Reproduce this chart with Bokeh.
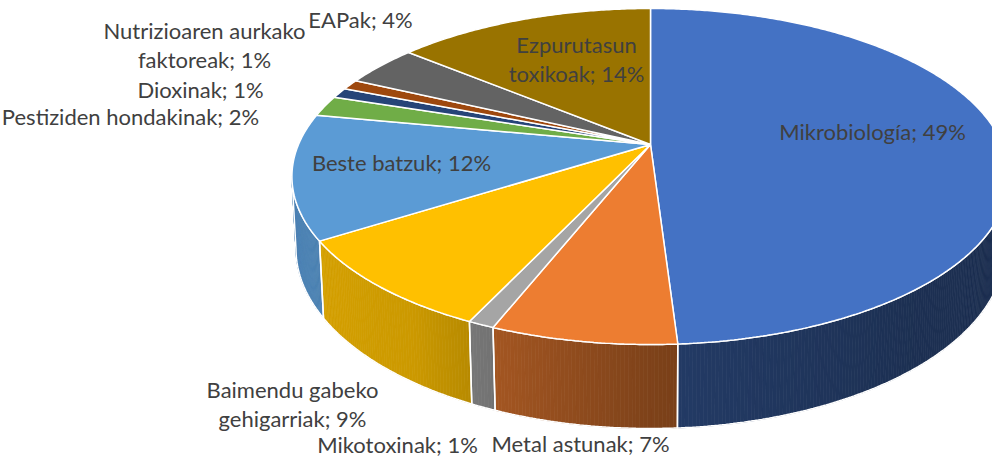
import numpy as np
from bokeh.plotting import figure
from bokeh.models import Range1d
from bokeh.embed import file_html
from bokeh.resources import INLINE
from bokeh.core.properties import value

# ---------------- data ----------------
categories = ["Mikrobiología", "Metal astunak", "Mikotoxinak",
              "Baimendu gabeko gehigarriak", "Beste batzuk",
              "Pestiziden hondakinak", "Dioxinak",
              "Nutrizioaren aurkako faktoreak", "EAPak",
              "Ezpurutasun toxikoak"]
percentages = [49, 7, 1, 9, 12, 2, 1, 1, 4, 14]
colors = ["#4472C4", "#ED7D31", "#A5A5A5", "#FFC000", "#5B9BD5",
          "#70AD47", "#264478", "#9E480E", "#636363", "#997300"]

# ---------------- layout (pixel space of the page) ----------------
W_PAGE, H_PAGE = 1008, 475
X0, Y0 = 658.0, 152.0          # pie centre on top face
A, B = 352.0, 161.9            # horizontal / vertical radii scale
K = 0.1905                     # perspective factor
DEPTH, M = 71.1, 0.011         # thickness and vertical perspective

# label layout: (centre x, first-line centre y, words on first line or 0)
label_layout = [(880, 139, 0), (588, 451, 0), (405, 452, 0),
                (300, 397, 2), (409, 170, 0), (138, 124, 0),
                (208, 97, 0), (212, 38, 2), (368, 27, 0), (584, 52, 1)]
LINE_GAP = 29
FONT = "Lato"
FONT_SIZE = "22px"
TEXT_COLOR = "#404040"


def proj(theta_deg, r=1.0, h=0.0):
    t = np.radians(theta_deg)
    w = 1 + K * r * np.cos(t) + M * h
    x = X0 + A * r * np.sin(t) / w
    ypix = Y0 - B * r * np.cos(t) / w + DEPTH * h / w
    return x, H_PAGE - ypix


def shade(hex_color, f):
    h = hex_color.lstrip("#")
    r, g, b = (int(h[i:i + 2], 16) for i in (0, 2, 4))
    return "#%02x%02x%02x" % (int(r * f), int(g * f), int(b * f))


def shade_factor(theta):
    return float(np.interp(theta, [90, 140, 178, 200, 215, 240, 270],
                           [0.40, 0.42, 0.52, 0.68, 0.80, 0.84, 0.86]))


p = figure(width=992, height=459, output_backend="svg", toolbar_location=None,
           x_range=Range1d(8, 1000), y_range=Range1d(8, 467),
           min_border=0, outline_line_color=None)
p.xaxis.visible = False
p.yaxis.visible = False
p.xgrid.visible = False
p.ygrid.visible = False
p.background_fill_color = "white"
p.border_fill_color = "white"

total = float(sum(percentages))
starts, ends = [], []
acc = 0.0
for v in percentages:
    starts.append(acc / total * 360.0)
    acc += v
    ends.append(acc / total * 360.0)

th_min = np.degrees(np.arccos(-K))
th_max = 360.0 - th_min

# ---- side walls (gradient strips) ----
qx, qy, qc = [], [], []
wall_x, wall_y = [], []
for s, e, c in zip(starts, ends, colors):
    a0, a1 = max(s, th_min), min(e, th_max)
    if a1 <= a0:
        continue
    n = max(2, int((a1 - a0) / 0.5) + 1)
    ts = np.linspace(a0, a1, n)
    for t1, t2 in zip(ts[:-1], ts[1:]):
        xa, ya = proj(t1)
        xb, yb = proj(t2)
        xc, yc = proj(t2, h=1.0)
        xd, yd = proj(t1, h=1.0)
        qx.append([xa, xb, xc, xd])
        qy.append([ya, yb, yc, yd])
        qc.append(shade(c, shade_factor((t1 + t2) / 2)))
    tx, ty = proj(ts)
    bx, by = proj(ts[::-1], h=1.0)
    wall_x.append(list(tx) + list(bx))
    wall_y.append(list(ty) + list(by))

p.patches(xs=qx, ys=qy, fill_color=qc, line_color=qc, line_width=0.7)
p.patches(xs=wall_x, ys=wall_y, fill_color=None, line_color="white",
          line_width=1.5)

# ---- top faces ----
top_x, top_y = [], []
for s, e in zip(starts, ends):
    n = max(3, int((e - s) / 0.5) + 1)
    ts = np.linspace(s, e, n)
    ax_, ay_ = proj(ts)
    cx, cy = proj(0.0, r=0.0)
    top_x.append([cx] + list(ax_))
    top_y.append([cy] + list(ay_))
p.patches(xs=top_x, ys=top_y, fill_color=colors, line_color="white",
          line_width=1.5)

# ---- labels ----
lx, ly, lt = [], [], []
for cat, val, (x, y, brk) in zip(categories, percentages, label_layout):
    words = f"{cat}; {val}%".split(" ")
    lines = [" ".join(words)] if brk == 0 else [" ".join(words[:brk]),
                                                  " ".join(words[brk:])]
    for i, line in enumerate(lines):
        lx.append(x)
        ly.append(H_PAGE - (y + i * LINE_GAP))
        lt.append(line)
p.text(x=lx, y=ly, text=lt, text_align="center", text_baseline="middle",
       text_font=value(FONT), text_font_size=FONT_SIZE, text_color=TEXT_COLOR)

open("out.html", "w").write(file_html(p, INLINE))
